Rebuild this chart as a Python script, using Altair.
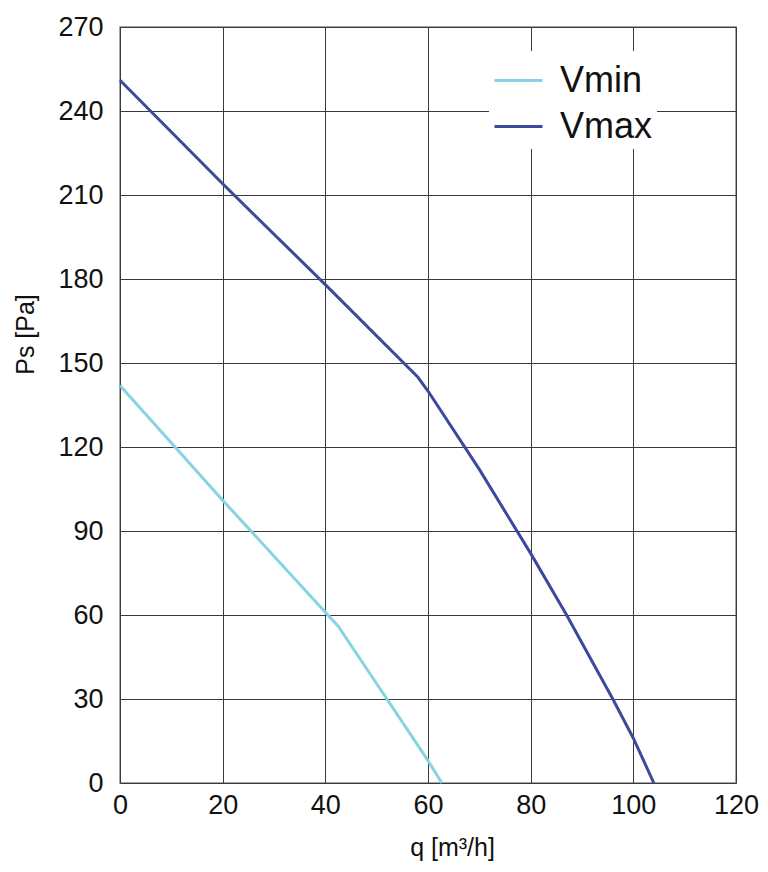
import altair as alt
import pandas as pd

vmin_q = [0, 20, 40, 42.5, 52, 60, 62.7]
vmin_ps = [142, 101, 61, 56, 30, 8, 0]
vmax_q = [0, 20, 40, 58, 60, 70, 80, 87, 96, 100, 104]
vmax_ps = [251, 214, 178, 145, 140, 112, 82, 60, 30, 16, 0]
series = ["Vmin", "Vmax"]
colors = ["#86d3e3", "#3d4a9c"]

rows = []
for i, (q, p) in enumerate(zip(vmin_q, vmin_ps)):
    rows.append({"q": q, "ps": p, "s": "Vmin", "o": i})
for i, (q, p) in enumerate(zip(vmax_q, vmax_ps)):
    rows.append({"q": q, "ps": p, "s": "Vmax", "o": i})
df = pd.DataFrame(rows)

FONT = "Liberation Sans"

chart = alt.Chart(df).mark_line(strokeWidth=3).encode(
    x=alt.X("q:Q", scale=alt.Scale(domain=[0, 120], nice=False),
            axis=alt.Axis(values=list(range(0, 121, 20)), title="q [m³/h]",
                          titleX=332, titleY=64, titleBaseline="middle")),
    y=alt.Y("ps:Q", scale=alt.Scale(domain=[0, 270], nice=False),
            axis=alt.Axis(values=list(range(0, 271, 30)), title="Ps [Pa]",
                          titleX=-95, titleY=307, titleBaseline="middle")),
    color=alt.Color("s:N", scale=alt.Scale(domain=series, range=colors),
                    legend=alt.Legend(title=None, orient="none", legendX=369, legendY=24,
                                      symbolType="stroke", symbolSize=2304,
                                      symbolStrokeWidth=3, labelFontSize=36,
                                      labelFont=FONT, labelColor="#111",
                                      labelExpr="datum.label + '    '",
                                      fillColor="white", padding=4,
                                      rowPadding=2, labelOffset=16)),
    order="o:Q",
).properties(
    width=616, height=756,
    autosize=alt.AutoSizeParams(type="none"),
    padding={"left": 112, "top": 19, "right": 24, "bottom": 80},
).configure_view(
    stroke="#888", strokeWidth=1.5
).configure_axis(
    grid=True, gridColor="#3a3a3a", gridWidth=1, gridOpacity=1,
    domain=False, ticks=False, labelFlush=False,
    labelFont=FONT, labelFontSize=27, labelColor="#111",
    titleFont=FONT, titleFontSize=25, titleColor="#111", titleFontWeight="normal",
).configure_axisX(labelPadding=9).configure_axisY(labelPadding=17)

chart.save("out.html", embed_options={"renderer": "svg", "actions": False})
